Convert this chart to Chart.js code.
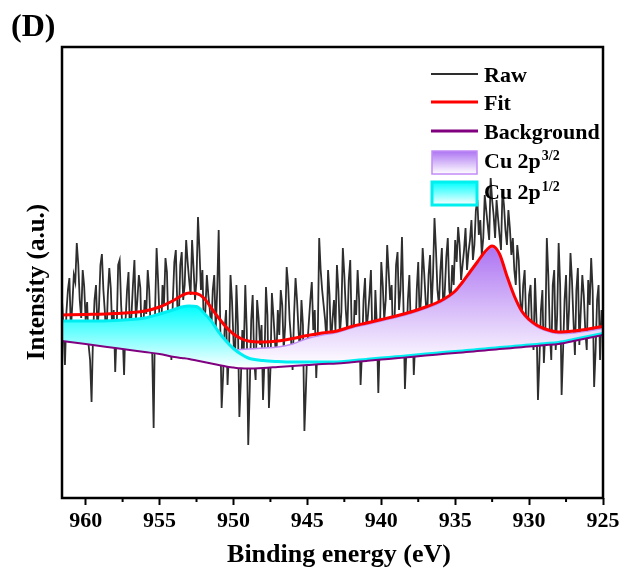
<!DOCTYPE html>
<html>
<head>
<meta charset="utf-8">
<script src="https://cdn.jsdelivr.net/npm/chart.js@4.4.0/dist/chart.umd.min.js"></script>
<style>
  body { margin: 0; background: #fff; }
  canvas { display: block; }
</style>
</head>
<body>
<canvas id="xps" width="634" height="581"></canvas>
<script>
// raw spectrum, 0.1 eV steps from 961.6 eV down to 925.0 eV
var rawStart = 961.6;
var rawStep = 0.1;
var rawCounts = [
  200,172,135,188,210,222,170,196,225,218,
  257,236,200,182,230,214,180,198,155,140,
  98,165,200,215,170,192,235,246,210,188,
  160,205,232,212,170,190,128,170,235,240,
  195,168,125,180,210,228,160,185,215,240,
  180,200,225,212,155,175,200,186,230,210,
  170,150,72,190,252,220,180,160,215,196,
  242,228,170,185,140,200,238,250,195,178,
  235,248,200,215,260,238,220,205,260,232,
  200,220,283,250,210,230,170,190,225,205,
  190,170,210,225,170,210,270,180,92,125,
  170,190,115,150,225,200,160,135,215,175,
  83,120,170,150,215,170,55,110,180,205,
  140,120,200,182,155,175,100,140,213,185,
  92,130,207,185,160,140,190,165,210,195,
  150,175,233,215,180,160,130,185,222,200,
  170,148,200,175,69,110,155,178,200,218,
  170,190,122,160,262,230,210,195,180,158,
  230,205,155,180,200,170,235,210,165,188,
  252,225,190,168,220,240,170,150,200,185,
  230,200,115,150,200,222,170,185,205,230,
  160,140,210,175,107,160,238,215,180,200,
  255,228,200,215,160,180,235,248,190,210,
  263,195,111,150,200,225,170,190,125,160,
  210,238,180,205,252,228,200,180,225,245,
  190,225,282,250,210,195,230,252,185,210,
  243,262,210,200,235,215,260,238,273,255,
  220,235,250,272,230,248,260,280,240,255,
  290,300,265,280,245,262,305,290,275,260,
  322,300,285,262,300,282,265,250,310,295,
  270,255,290,272,245,262,230,215,255,240,
  200,180,215,230,180,160,205,215,170,150,
  222,180,100,140,190,210,137,170,262,225,
  170,140,215,230,150,185,257,215,105,150,
  200,225,160,190,247,220,180,145,210,232,
  155,190,225,205,170,150,220,195,242,210,
  113,150,200,215,140,190,170
];

// fitted curves
var fitEnergy = [961.6, 960, 958, 956, 955, 954, 953.5, 953, 952.5, 952,
  951.5, 951, 950.5, 950, 949.5, 949, 948, 947, 946, 945,
  944, 943, 942, 941, 940, 939, 938, 937, 936, 935,
  934.5, 934, 933.5, 933, 932.5, 932, 931.5, 931, 930.5, 930,
  929.5, 929, 928, 927, 926, 925];
var backgroundVals = [159, 156, 152, 148, 146, 143, 142, 141, 139.5, 138,
  136.5, 135, 133.5, 132.5, 131.7, 131.5, 132, 133, 134, 135,
  136, 136.5, 137.8, 139.1, 140.4, 141.7, 143, 144.4, 145.7, 147,
  147.6, 148.3, 148.9, 149.6, 150.2, 150.9, 151.5, 152.2, 152.8, 153.5,
  154.1, 154.8, 156.1, 159, 162, 165];
var cu12Vals = [179, 179, 179.5, 182, 186, 190.5, 193, 194, 193.5, 187,
  179, 168, 159, 151.5, 146, 142, 139.5, 138.5, 138, 138,
  138, 138, 139.3, 140.6, 141.9, 143.2, 144.5, 145.9, 147.2, 148.5,
  149.1, 149.8, 150.4, 151.1, 151.7, 152.4, 153, 153.7, 154.3, 155,
  155.6, 156.3, 157.6, 160.5, 163.5, 166.5];
var fitVals = [185, 185.5, 186.5, 189, 193, 200, 204.5, 207, 206.5, 202,
  192, 182, 173, 166, 161.5, 159, 158, 159, 161.5, 164.5,
  167, 169, 173.5, 177, 180.5, 184, 188, 193, 199, 209,
  218, 228, 238, 248, 254, 246, 224, 204, 189, 180.5,
  175, 171.5, 168, 169, 171, 173.5];
// Cu 2p3/2 component is only drawn from 950 eV downwards
var cu32Energy = fitEnergy.slice(13);
var cu32Vals = [150, 150.5, 151, 152, 153, 156, 161.5, 165, 167.5, 172,
  175.5, 179, 182.5, 186.5, 191.5, 197.5, 207.5, 216.5, 226.5, 236.5,
  246.5, 252.5, 244.5, 222.5, 202.5, 187.5, 179, 173.5, 170, 166.5,
  167, 169, 171.5];

var majorTicks = [960, 955, 950, 945, 940, 935, 930, 925];
var minorTicks = [957.5, 952.5, 947.5, 942.5, 937.5, 932.5, 927.5];

var serif = "'Times New Roman', 'Liberation Serif', serif";

function pts(xs, ys) {
  return ys.map(function (v, i) { return { x: xs[i], y: v }; });
}

var rawPoints = rawCounts.map(function (v, i) {
  return { x: +(rawStart - i * rawStep).toFixed(1), y: v };
});

function vGrad(chart, top, bottom, c1, c2) {
  var area = chart.chartArea;
  if (!area) return c1;
  var y = chart.scales.y;
  var gr = chart.ctx.createLinearGradient(0, y.getPixelForValue(top), 0, y.getPixelForValue(bottom));
  gr.addColorStop(0, c1);
  gr.addColorStop(1, c2);
  return gr;
}

var extras = {
  id: 'extras',
  afterDraw: function (chart) {
    var g = chart.ctx, a = chart.chartArea, xs = chart.scales.x;
    g.save();
    // minor ticks
    g.strokeStyle = '#000';
    g.lineWidth = 2;
    minorTicks.forEach(function (e) {
      var px = xs.getPixelForValue(e);
      g.beginPath(); g.moveTo(px, a.bottom); g.lineTo(px, a.bottom + 4); g.stroke();
    });
    // frame
    g.lineWidth = 2.5;
    g.strokeRect(a.left, a.top, a.right - a.left, a.bottom - a.top);

    g.fillStyle = '#000';
    g.font = 'bold 32px ' + serif;
    g.textAlign = 'left';
    g.textBaseline = 'alphabetic';
    g.fillText('(D)', 11, 36);

    g.font = 'bold 26px ' + serif;
    g.textAlign = 'center';
    g.fillText('Binding energy (eV)', 339, 562);

    g.save();
    g.translate(38, 282);
    g.rotate(-Math.PI / 2);
    g.font = 'bold 25px ' + serif;
    g.textBaseline = 'middle';
    g.fillText('Intensity (a.u.)', 0, 0);
    g.restore();

    // legend
    g.textAlign = 'left';
    g.textBaseline = 'alphabetic';
    g.font = 'bold 22px ' + serif;
    var lines = [
      ['Raw', '#2e2e2e', 2, 74, 82],
      ['Fit', '#ff0000', 3, 102, 110],
      ['Background', '#800080', 3, 131, 139]
    ];
    lines.forEach(function (l) {
      g.strokeStyle = l[1];
      g.lineWidth = l[2];
      g.beginPath(); g.moveTo(431, l[3]); g.lineTo(478, l[3]); g.stroke();
      g.fillText(l[0], 484, l[4]);
    });
    var boxes = [
      ['3/2', 151, 168, '#ad74f2', '#ffffff', '#c28cf7', 1.5],
      ['1/2', 182, 199, '#00ffff', '#ffffff', '#00f0f0', 3]
    ];
    boxes.forEach(function (b) {
      var gr = g.createLinearGradient(0, b[1], 0, b[1] + 23);
      gr.addColorStop(0, b[3]);
      gr.addColorStop(1, b[4]);
      g.fillStyle = gr;
      g.fillRect(432, b[1], 45, 23);
      g.strokeStyle = b[5];
      g.lineWidth = b[6];
      g.strokeRect(432, b[1], 45, 23);
      g.fillStyle = '#000';
      g.font = 'bold 22px ' + serif;
      g.fillText('Cu 2p', 484, b[2]);
      var w = g.measureText('Cu 2p').width;
      g.font = 'bold 14px ' + serif;
      g.fillText(b[0], 484 + w + 1, b[2] - 8);
    });
    g.restore();
  }
};

new Chart("xps", {
  type: "line",
  data: {
    datasets: [{
      label: "Raw",
      data: rawPoints,
      borderColor: "#2e2e2e",
      borderWidth: 1.8,
      pointRadius: 0,
      tension: 0,
      fill: false,
      order: 5
    }, {
      label: "Background",
      data: pts(fitEnergy, backgroundVals),
      borderColor: "#800080",
      borderWidth: 2,
      pointRadius: 0,
      cubicInterpolationMode: "monotone",
      fill: false,
      order: 2
    }, {
      label: "Cu 2p3/2",
      data: pts(cu32Energy, cu32Vals),
      borderColor: "#c28cf7",
      borderWidth: 1.5,
      pointRadius: 0,
      cubicInterpolationMode: "monotone",
      fill: { target: 1 },
      backgroundColor: function (ctx) {
        return vGrad(ctx.chart, 252.5, 140, "#ad74f2", "#fbf8ff");
      },
      order: 4
    }, {
      label: "Cu 2p1/2",
      data: pts(fitEnergy, cu12Vals),
      borderColor: "#00eef2",
      borderWidth: 3,
      pointRadius: 0,
      cubicInterpolationMode: "monotone",
      fill: { target: 1 },
      backgroundColor: function (ctx) {
        return vGrad(ctx.chart, 194, 131.5, "#00ffff", "#ffffff");
      },
      order: 3
    }, {
      label: "Fit",
      data: pts(fitEnergy, fitVals),
      borderColor: "#ff0000",
      borderWidth: 3,
      pointRadius: 0,
      cubicInterpolationMode: "monotone",
      fill: false,
      order: 1
    }]
  },
  options: {
    responsive: false,
    animation: false,
    layout: { padding: { left: 62, right: 31, top: 47, bottom: 0 } },
    plugins: {
      legend: { display: false },
      tooltip: { enabled: false }
    },
    scales: {
      x: {
        type: "linear",
        reverse: true,
        min: 925,
        max: 961.6,
        afterFit: function (s) { s.height = 83; },
        border: { display: false },
        grid: {
          display: true,
          drawOnChartArea: false,
          drawTicks: true,
          tickLength: 7,
          tickWidth: 2,
          tickColor: "#000"
        },
        ticks: {
          stepSize: 5,
          includeBounds: false,
          autoSkip: false,
          maxRotation: 0,
          padding: 3,
          color: "#000",
          font: { family: serif, size: 22, weight: "bold" },
          callback: function (v) { return majorTicks.indexOf(v) >= 0 ? String(v) : ""; }
        }
      },
      y: {
        display: false,
        min: 2,
        max: 453
      }
    }
  },
  plugins: [extras]
});
</script>
</body>
</html>
